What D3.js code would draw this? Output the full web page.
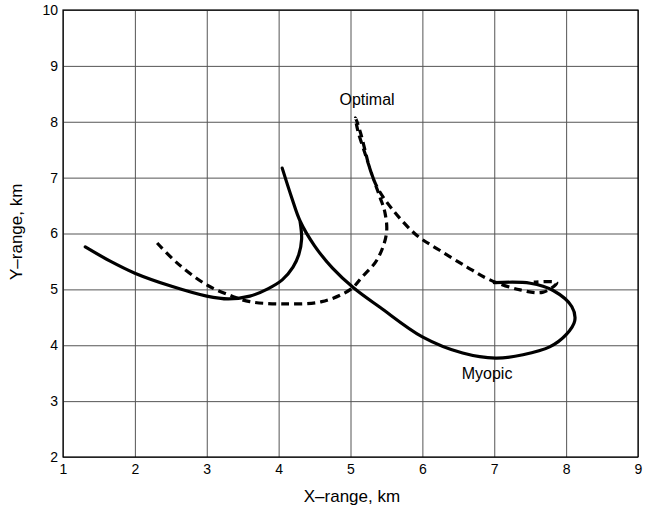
<!DOCTYPE html>
<html>
<head>
<meta charset="utf-8">
<script src="https://cdn.jsdelivr.net/npm/d3@7"></script>
<style>
  body { margin: 0; background: #fff; }
  text { font-family: "Liberation Sans", Arial, sans-serif; fill: #000; }
</style>
</head>
<body>
<script>
// tick values
var xTicks = [1, 2, 3, 4, 5, 6, 7, 8, 9];
var yTicks = [2, 3, 4, 5, 6, 7, 8, 9, 10];

// myopic path, left branch up to the cusp
var myopicA = [
  [1.31, 5.76], [1.65, 5.51], [2.0, 5.29], [2.5, 5.06], [3.0, 4.88], [3.3, 4.83],
  [3.6, 4.88], [3.85, 5.01], [4.05, 5.17], [4.2, 5.4], [4.28, 5.62], [4.32, 5.9], [4.3, 6.2]
];
// myopic path, from the tip through the loop
var myopicB = [
  [4.05, 7.17], [4.18, 6.65], [4.3, 6.22], [4.5, 5.78], [4.75, 5.38], [5.05, 5.02],
  [5.41, 4.68], [6.0, 4.15], [6.56, 3.86], [7.02, 3.77], [7.4, 3.83], [7.77, 3.97],
  [8.0, 4.19], [8.12, 4.44], [8.08, 4.69], [7.82, 4.98], [7.5, 5.11], [7.0, 5.12]
];
// optimal path
var optimal = [
  [2.31, 5.83], [2.59, 5.47], [3.0, 5.08], [3.37, 4.87], [3.6, 4.78], [4.06, 4.74],
  [4.6, 4.78], [5.0, 5.0], [5.16, 5.22], [5.37, 5.53], [5.5, 6.0], [5.48, 6.37],
  [5.41, 6.65], [5.31, 7.01], [5.2, 7.44], [5.1, 7.85], [5.07, 8.07],
  [5.14, 7.8], [5.2, 7.5], [5.26, 7.2], [5.37, 6.83], [5.59, 6.42], [5.92, 5.97],
  [6.24, 5.7], [6.62, 5.4], [6.94, 5.17], [7.36, 4.99], [7.68, 4.95], [7.87, 5.12],
  [7.55, 5.13]
];

var margin = {top: 10, right: 15, bottom: 53, left: 63},
    width = 653 - margin.left - margin.right,
    height = 510 - margin.top - margin.bottom;

var x = d3.scaleLinear().domain([1, 9]).range([0, width]);
var y = d3.scaleLinear().domain([2, 10]).range([height, 0]);

var svg = d3.select("body").append("svg")
    .attr("width", 653)
    .attr("height", 510)
  .append("g")
    .attr("transform", "translate(" + margin.left + "," + margin.top + ")");

// grid
svg.append("g")
    .attr("transform", "translate(0," + height + ")")
    .call(d3.axisBottom(x).tickValues(xTicks).tickSize(-height).tickFormat(""))
    .call(function(g) { g.select(".domain").remove(); })
    .selectAll("line").attr("stroke", "#555").attr("stroke-width", 1);
svg.append("g")
    .call(d3.axisLeft(y).tickValues(yTicks).tickSize(-width).tickFormat(""))
    .call(function(g) { g.select(".domain").remove(); })
    .selectAll("line").attr("stroke", "#555").attr("stroke-width", 1);

// tick labels
svg.append("g")
    .attr("transform", "translate(0," + height + ")")
    .call(d3.axisBottom(x).tickValues(xTicks).tickSize(0).tickPadding(7))
    .call(function(g) { g.select(".domain").remove(); })
    .selectAll("text").style("font-size", "14px").style("font-family", "Liberation Sans, Arial");
svg.append("g")
    .call(d3.axisLeft(y).tickValues(yTicks).tickSize(0).tickPadding(5))
    .call(function(g) { g.select(".domain").remove(); })
    .selectAll("text").style("font-size", "14px").style("font-family", "Liberation Sans, Arial");

// frame
svg.append("rect")
    .attr("width", width).attr("height", height)
    .attr("fill", "none").attr("stroke", "#000").attr("stroke-width", 1.2);

var line = d3.line()
    .x(function(d) { return x(d[0]); })
    .y(function(d) { return y(d[1]); })
    .curve(d3.curveCatmullRom.alpha(0.5));

[myopicA, myopicB].forEach(function(p) {
  svg.append("path")
      .datum(p)
      .attr("d", line)
      .attr("fill", "none")
      .attr("stroke", "#000")
      .attr("stroke-width", 3.2)
      .attr("stroke-linecap", "round");
});

svg.append("path")
    .datum(optimal)
    .attr("d", line)
    .attr("fill", "none")
    .attr("stroke", "#000")
    .attr("stroke-width", 3.2)
    .attr("stroke-dasharray", "8,5");

// curve labels
svg.append("text")
    .attr("x", x(5.23)).attr("y", y(8.3))
    .attr("text-anchor", "middle")
    .style("font-size", "16px")
    .text("Optimal");
svg.append("text")
    .attr("x", x(6.9)).attr("y", y(3.4))
    .attr("text-anchor", "middle")
    .style("font-size", "16px")
    .text("Myopic");

// axis titles
svg.append("text")
    .attr("x", x(5.02)).attr("y", height + 45)
    .attr("text-anchor", "middle")
    .style("font-size", "17px")
    .text("X\u2013range, km");
svg.append("text")
    .attr("transform", "translate(" + (-41) + "," + y(6.03) + ") rotate(-90)")
    .attr("text-anchor", "middle")
    .style("font-size", "17px")
    .text("Y\u2013range, km");
</script>
</body>
</html>
